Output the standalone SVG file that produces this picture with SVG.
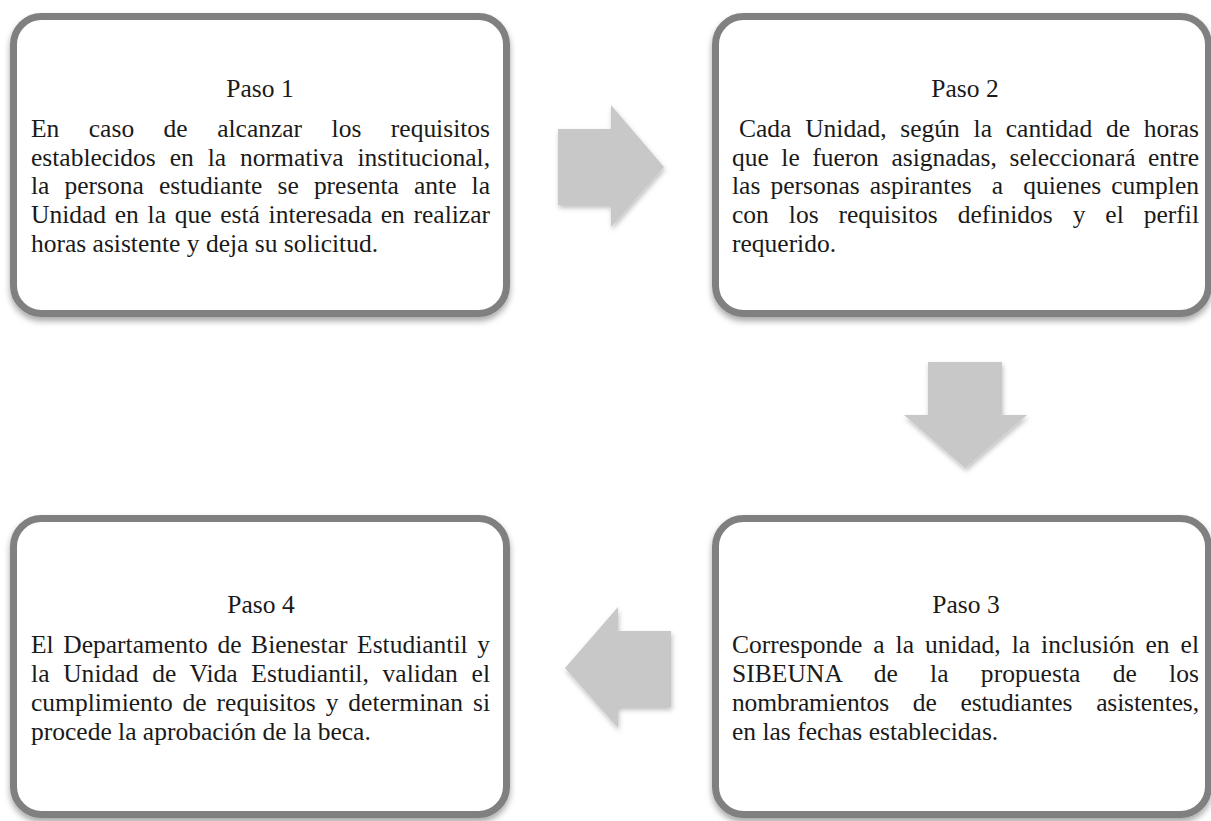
<svg xmlns="http://www.w3.org/2000/svg" width="1211" height="821" viewBox="0 0 1211 821">
<defs>
<filter id="sh" x="-10%" y="-10%" width="120%" height="125%">
<feDropShadow dx="0" dy="4" stdDeviation="3" flood-color="#000" flood-opacity="0.35"/>
</filter>
<filter id="ash" x="-20%" y="-20%" width="140%" height="140%">
<feDropShadow dx="1" dy="3" stdDeviation="2.5" flood-color="#000" flood-opacity="0.25"/>
</filter>
</defs>
<style>
.box{fill:#fff;stroke:#808080;stroke-width:7;filter:url(#sh)}
.arr{fill:#c8c8c8;filter:url(#ash)}
text{font-family:"Liberation Serif","DejaVu Serif",serif;font-size:25.5px;fill:#1a1a1a}
.t{text-anchor:middle}
</style>
<rect width="1211" height="821" fill="#fff"/>
<g id="connectors">
<polygon class="arr" points="558,129 611,129 611,105 664,167 611,227 611,205 558,205"/>
<polygon class="arr" points="928,362 1002,362 1002,415 1027,415 965,468 904,415 928,415"/>
<polygon class="arr" points="671,631 618,631 618,607 565,668 618,728 618,707 671,707"/>
</g>
<g id="paso1">
<rect class="box" x="13.5" y="16.5" width="493" height="297" rx="28"/>
<text class="t" x="260" y="97">Paso 1</text>
<text x="31" y="137" word-spacing="23.1" textLength="459" lengthAdjust="spacing">En caso de alcanzar los requisitos</text>
<text x="31" y="166" word-spacing="7.6" textLength="459" lengthAdjust="spacing">establecidos en la normativa institucional,</text>
<text x="31" y="194" word-spacing="8.75" textLength="459" lengthAdjust="spacing">la persona estudiante se presenta ante la</text>
<text x="31" y="223" word-spacing="2.34" textLength="459" lengthAdjust="spacing">Unidad en la que está interesada en realizar</text>
<text x="31" y="252">horas asistente y deja su solicitud.</text>
</g>
<g id="paso2">
<rect class="box" x="715.5" y="16.5" width="493" height="297" rx="28"/>
<text class="t" x="965" y="97">Paso 2</text>
<text x="739" y="137" word-spacing="7.38" textLength="460" lengthAdjust="spacing">Cada Unidad, según la cantidad de horas</text>
<text x="732" y="166" word-spacing="6.16" textLength="467" lengthAdjust="spacing">que le fueron asignadas, seleccionará entre</text>
<text x="732" y="194" word-spacing="3.68" textLength="467" lengthAdjust="spacing" style="white-space:pre">las personas aspirantes  a  quienes cumplen</text>
<text x="732" y="223" word-spacing="13.6" textLength="467" lengthAdjust="spacing">con los requisitos definidos y el perfil</text>
<text x="732" y="252">requerido.</text>
</g>
<g id="paso3">
<rect class="box" x="715.5" y="518.5" width="493" height="296" rx="28"/>
<text class="t" x="966" y="613">Paso 3</text>
<text x="732" y="653" word-spacing="4.59" textLength="467" lengthAdjust="spacing">Corresponde a la unidad, la inclusión en el</text>
<text x="732" y="682" word-spacing="25.8" textLength="467" lengthAdjust="spacing">SIBEUNA de la propuesta de los</text>
<text x="732" y="711" word-spacing="17.6" textLength="467" lengthAdjust="spacing">nombramientos de estudiantes asistentes,</text>
<text x="732" y="740">en las fechas establecidas.</text>
</g>
<g id="paso4">
<rect class="box" x="13.5" y="518.5" width="493" height="296" rx="28"/>
<text class="t" x="261" y="613">Paso 4</text>
<text x="31" y="653" word-spacing="3.26" textLength="459" lengthAdjust="spacing">El Departamento de Bienestar Estudiantil y</text>
<text x="31" y="682" word-spacing="7.2" textLength="459" lengthAdjust="spacing">la Unidad de Vida Estudiantil, validan el</text>
<text x="31" y="711" word-spacing="3.54" textLength="459" lengthAdjust="spacing">cumplimiento de requisitos y determinan si</text>
<text x="31" y="740">procede la aprobación de la beca.</text>
</g>
</svg>
